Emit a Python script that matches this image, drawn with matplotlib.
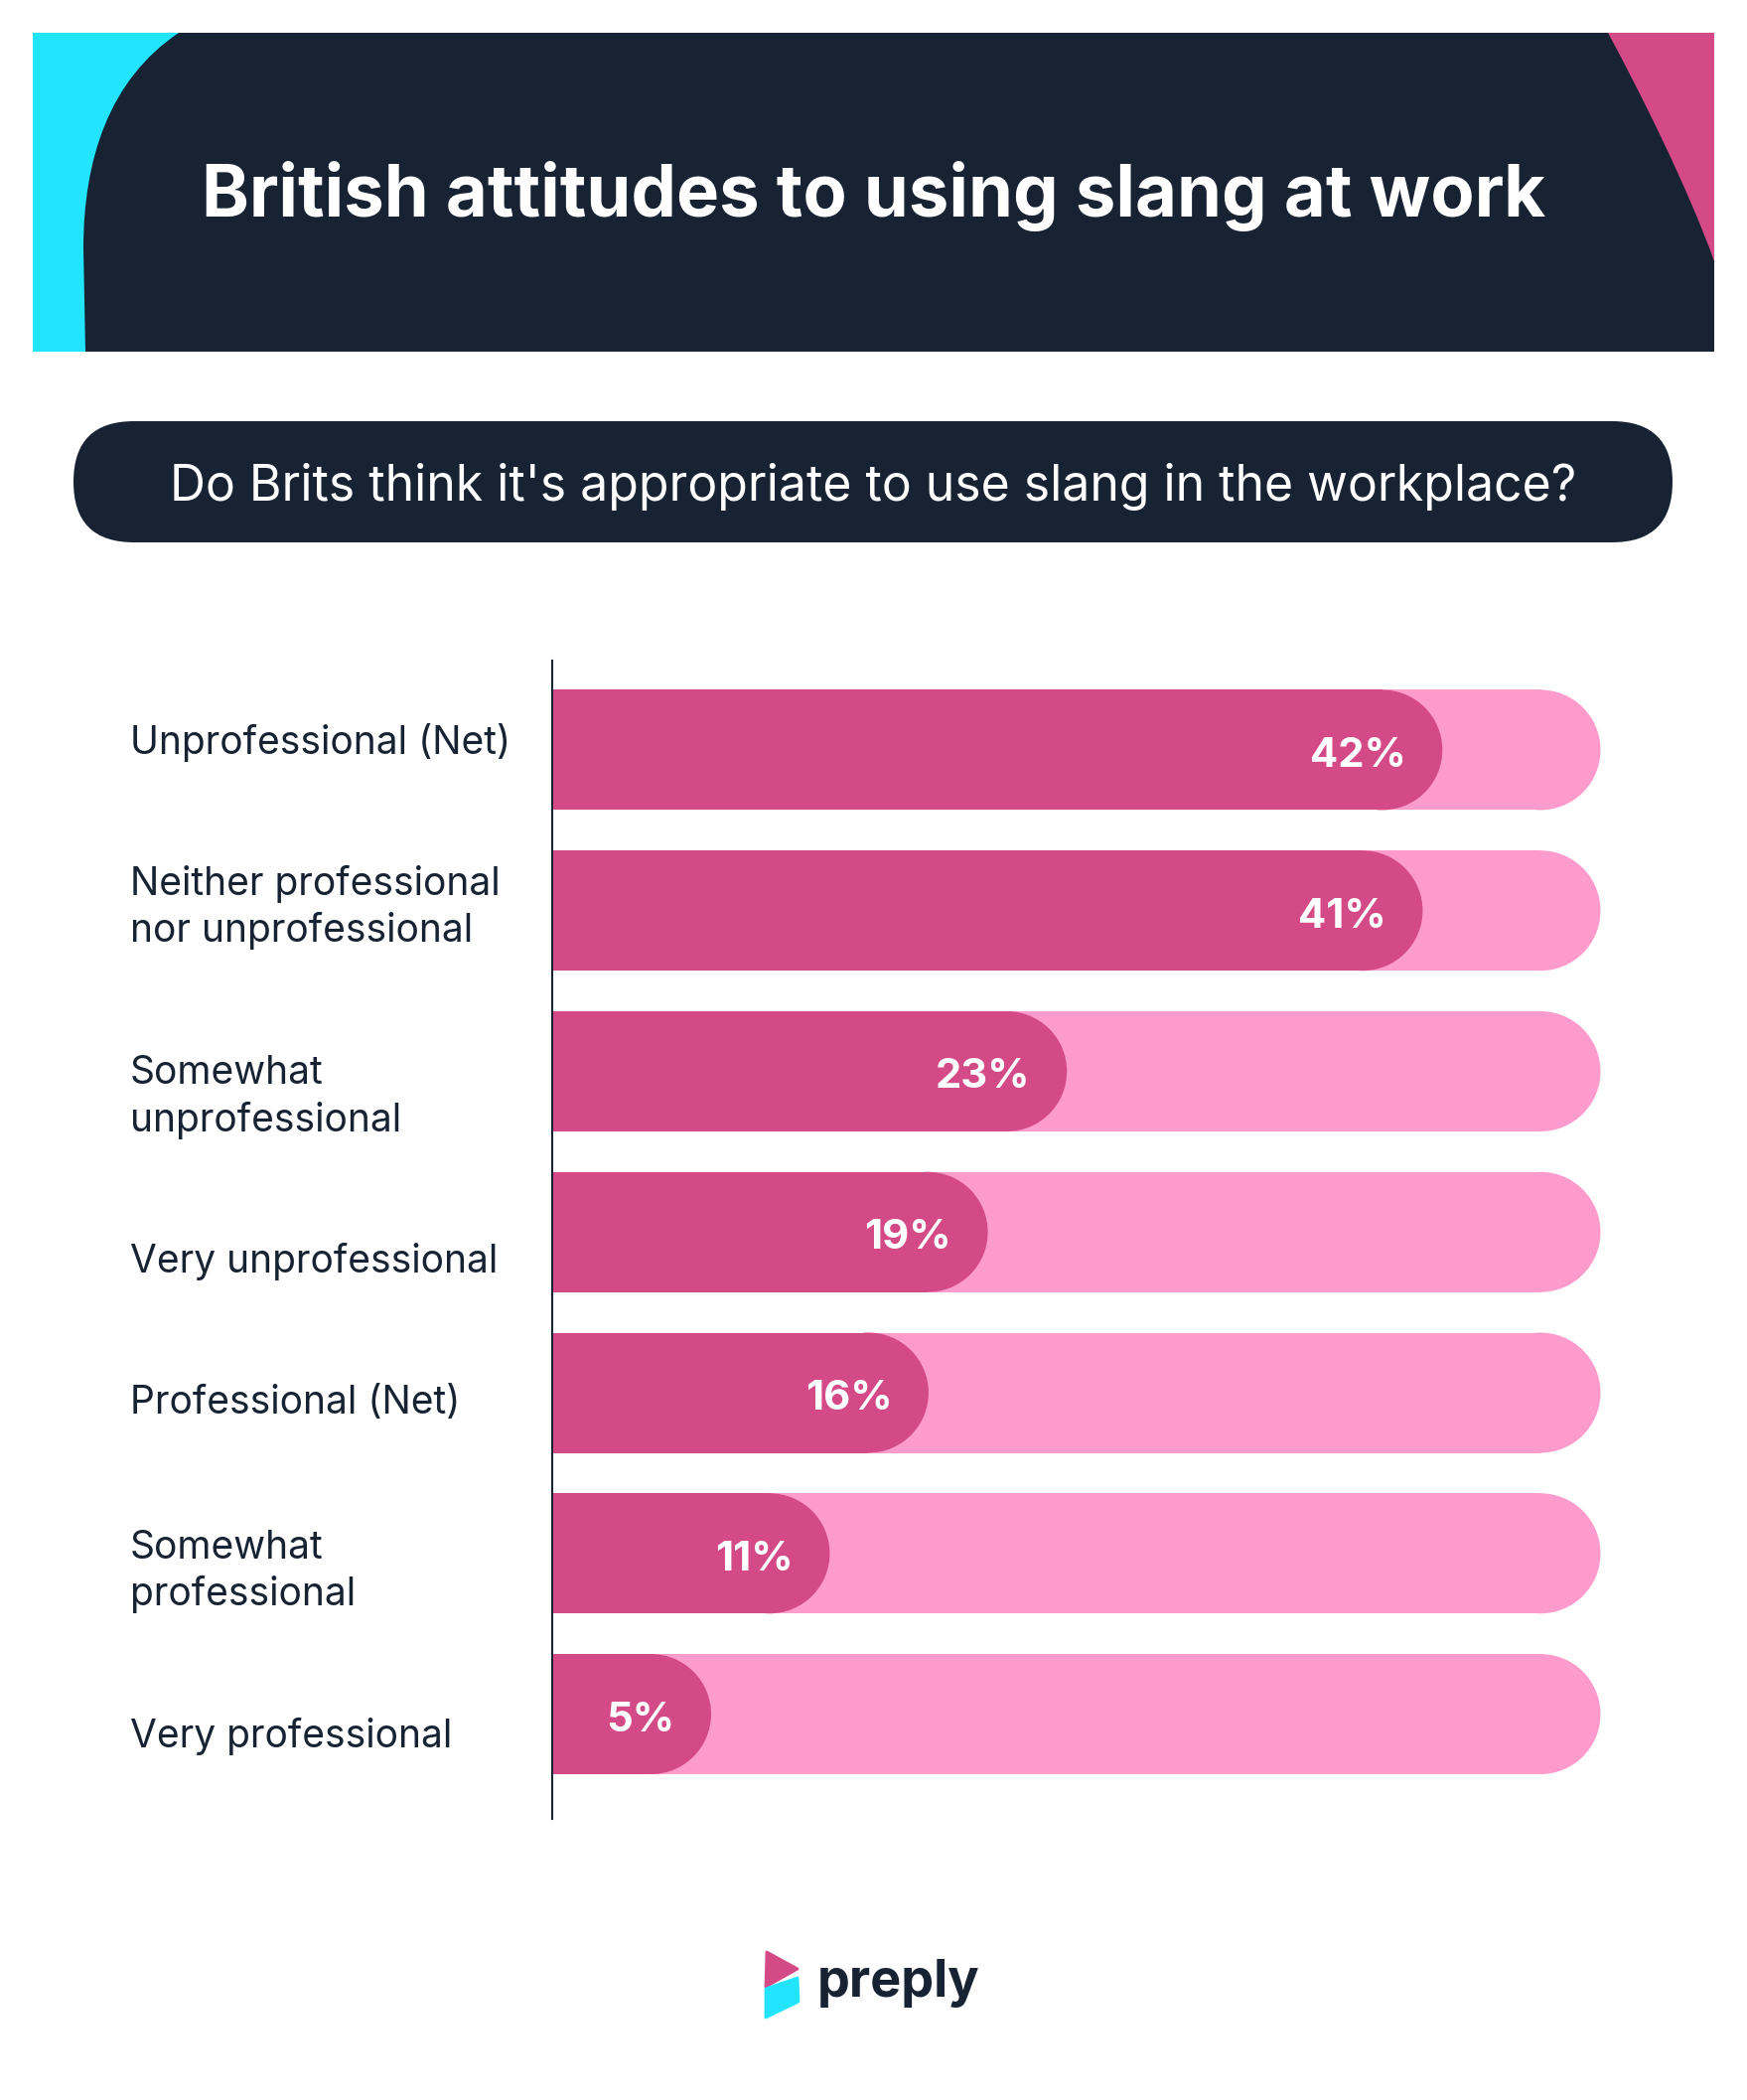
import matplotlib
matplotlib.use("Agg")
import matplotlib.pyplot as plt
from matplotlib.patches import Ellipse, Rectangle, FancyBboxPatch, Polygon, PathPatch
from matplotlib.path import Path

W, H, DPI = 1759, 2114, 100

title = "British attitudes to using slang at work"
subtitle = "Do Brits think it's appropriate to use slang in the workplace?"
categories = [
    "Unprofessional (Net)",
    "Neither professional\nnor unprofessional",
    "Somewhat\nunprofessional",
    "Very unprofessional",
    "Professional (Net)",
    "Somewhat\nprofessional",
    "Very professional",
]
values = [42, 41, 23, 19, 16, 11, 5]
track_max = 50

# small vertical nudges (px) for the category labels, as in the original layout
label_nudge_px = [-7, -3, 26, 30, 11, 18, 22]

DARK = "#172233"
PINK = "#d44a87"
TRACK = "#fe9bcd"
CYAN = "#22e5fd"

plt.rcParams["font.family"] = ["Inter", "DejaVu Sans"]

fig = plt.figure(figsize=(W / DPI, H / DPI), dpi=DPI)
fig.patch.set_facecolor("white")

# background axes in pixel units for the decoration
bg = fig.add_axes([0, 0, 1, 1])
bg.set_xlim(0, W)
bg.set_ylim(H, 0)
bg.axis("off")

renderer = fig.canvas.get_renderer()


def fit_size(s, width_px, **kw):
    t = fig.text(0, 0, s, fontsize=20, **kw)
    w = t.get_window_extent(renderer).width
    t.remove()
    return 20 * width_px / w


# header block
bg.add_patch(Rectangle((33, 33), 1693, 321, facecolor=DARK, lw=0))
cyan_path = Path(
    [(33, 33), (180, 33), (110, 80), (84, 160), (84, 250), (86, 354), (33, 354), (33, 33)],
    [Path.MOVETO, Path.LINETO, Path.CURVE4, Path.CURVE4, Path.CURVE4,
     Path.LINETO, Path.LINETO, Path.CLOSEPOLY])
bg.add_patch(PathPatch(cyan_path, facecolor=CYAN, lw=0))
pink_path = Path(
    [(1619, 33), (1726, 33), (1726, 263), (1700, 190), (1650, 90), (1619, 33), (1619, 33)],
    [Path.MOVETO, Path.LINETO, Path.LINETO, Path.CURVE4, Path.CURVE4, Path.CURVE4,
     Path.CLOSEPOLY])
bg.add_patch(PathPatch(pink_path, facecolor=PINK, lw=0))

bg.text(880, 218, title, color="white", weight="bold",
        fontsize=fit_size(title, 1357, weight="bold"), ha="center", va="baseline")

# question pill
bg.add_patch(FancyBboxPatch((74, 424), 1610, 122,
                            boxstyle="round,pad=0,rounding_size=61",
                            facecolor=DARK, lw=0))
bg.text(879, 504, subtitle, color="white", fontsize=fit_size(subtitle, 1415),
        ha="center", va="baseline")

# bar chart
ax_left, ax_top, ax_bottom = 556, 665, 1831
ax = fig.add_axes([ax_left / W, 1 - ax_bottom / H, (W - ax_left) / W, (ax_bottom - ax_top) / H])
ax.patch.set_alpha(0)
px_per_pct = 19.9
n = len(values)
ypos = list(range(n))
ax.set_xlim(0, (W - ax_left) / px_per_pct)
ax.set_ylim(n - 1 + 0.652, -0.556)
spacing_px = (ax_bottom - ax_top) / (n - 1 + 0.652 + 0.556)
bar_h = 0.748
cap_w = bar_h * spacing_px / px_per_pct

ax.barh(ypos, [track_max] * n, height=bar_h, color=TRACK, lw=0, zorder=1)
ax.barh(ypos, values, height=bar_h, color=PINK, lw=0, zorder=2)
for y, v in zip(ypos, values):
    ax.add_patch(Ellipse((track_max, y), cap_w, bar_h, facecolor=TRACK, lw=0, zorder=1))
    ax.add_patch(Ellipse((v, y), cap_w, bar_h, facecolor=PINK, lw=0, zorder=2))

pct_fs = fit_size("42%", 97, weight="bold")
for y, v in zip(ypos, values):
    ax.text(v + 1.2, y + 17 / spacing_px, f"{v}%", ha="right", va="baseline",
            fontsize=pct_fs, weight="bold", color="white", zorder=3)

lab_fs = fit_size(categories[0], 383)
for y, c, dy in zip(ypos, categories, label_nudge_px):
    ax.text(-(ax_left - 131) / px_per_pct, y + dy / spacing_px, c, ha="left", va="center",
            fontsize=lab_fs, color=DARK, linespacing=1.3)

for side in ["top", "right", "bottom"]:
    ax.spines[side].set_visible(False)
ax.spines["left"].set_color(DARK)
ax.spines["left"].set_linewidth(1.5)
ax.tick_params(left=False, bottom=False, labelleft=False, labelbottom=False)

# logo
bg.add_patch(Polygon([(772, 1965), (803, 1982), (771, 2000)], closed=True,
                     facecolor=PINK, edgecolor=PINK, lw=2, joinstyle="round"))
bg.add_patch(Polygon([(771, 2002), (803, 1991), (804, 2015), (771, 2031)], closed=True,
                     facecolor=CYAN, edgecolor=CYAN, lw=2, joinstyle="round"))
bg.text(823, 2010, "preply", fontsize=fit_size("preply", 164, weight="bold"),
        weight="bold", color=DARK, ha="left", va="baseline")

fig.savefig("out.png", dpi=DPI)
